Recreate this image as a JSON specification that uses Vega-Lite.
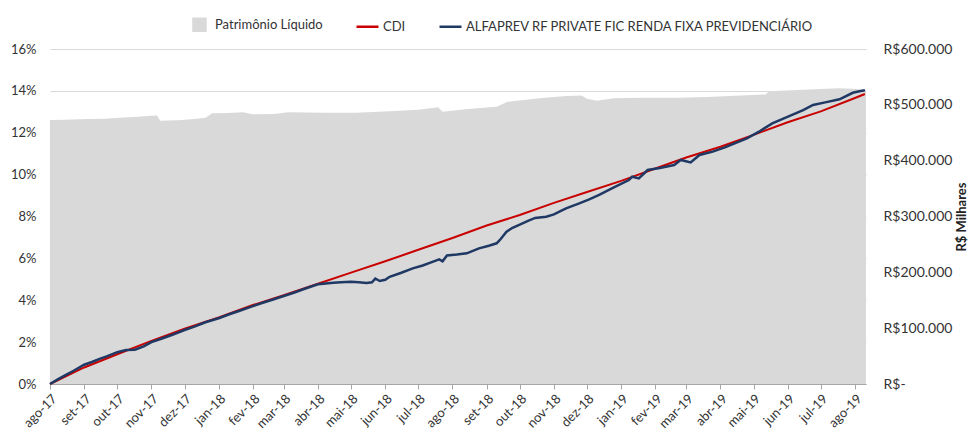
{
  "$schema": "https://vega.github.io/schema/vega-lite/v6.json",
  "width": 816,
  "height": 335,
  "autosize": "none",
  "padding": {"left": 50, "top": 49, "right": 105, "bottom": 48},
  "background": "white",
  "config": {
    "font": "Lato",
    "view": {"stroke": null},
    "axis": {"labelFont": "Lato", "labelFontSize": 13, "labelColor": "#333333", "titleFont": "Lato", "titleColor": "#222222"},
    "legend": {"labelFont": "Lato", "labelFontSize": 13, "labelColor": "#333333", "labelLimit": 0}
  },
  "data": {
    "values": [
      {"d": "2017-08-01", "s": "Patrimônio Líquido", "v": 472800},
      {"d": "2017-08-15", "s": "Patrimônio Líquido", "v": 473500},
      {"d": "2017-09-04", "s": "Patrimônio Líquido", "v": 474600},
      {"d": "2017-09-20", "s": "Patrimônio Líquido", "v": 475200},
      {"d": "2017-10-03", "s": "Patrimônio Líquido", "v": 476900},
      {"d": "2017-10-20", "s": "Patrimônio Líquido", "v": 478500},
      {"d": "2017-11-01", "s": "Patrimônio Líquido", "v": 480500},
      {"d": "2017-11-06", "s": "Patrimônio Líquido", "v": 481000},
      {"d": "2017-11-09", "s": "Patrimônio Líquido", "v": 471600},
      {"d": "2017-11-25", "s": "Patrimônio Líquido", "v": 472500},
      {"d": "2017-12-10", "s": "Patrimônio Líquido", "v": 474500},
      {"d": "2017-12-20", "s": "Patrimônio Líquido", "v": 477000},
      {"d": "2017-12-26", "s": "Patrimônio Líquido", "v": 484800},
      {"d": "2018-01-10", "s": "Patrimônio Líquido", "v": 485500},
      {"d": "2018-01-23", "s": "Patrimônio Líquido", "v": 486600},
      {"d": "2018-02-01", "s": "Patrimônio Líquido", "v": 483000},
      {"d": "2018-02-20", "s": "Patrimônio Líquido", "v": 483500},
      {"d": "2018-03-05", "s": "Patrimônio Líquido", "v": 486600},
      {"d": "2018-04-05", "s": "Patrimônio Líquido", "v": 486000},
      {"d": "2018-05-06", "s": "Patrimônio Líquido", "v": 485900},
      {"d": "2018-06-05", "s": "Patrimônio Líquido", "v": 488500},
      {"d": "2018-07-01", "s": "Patrimônio Líquido", "v": 491000},
      {"d": "2018-07-19", "s": "Patrimônio Líquido", "v": 495600},
      {"d": "2018-07-23", "s": "Patrimônio Líquido", "v": 487700},
      {"d": "2018-08-15", "s": "Patrimônio Líquido", "v": 492500},
      {"d": "2018-09-10", "s": "Patrimônio Líquido", "v": 496700},
      {"d": "2018-09-20", "s": "Patrimônio Líquido", "v": 505600},
      {"d": "2018-10-19", "s": "Patrimônio Líquido", "v": 511700},
      {"d": "2018-11-12", "s": "Patrimônio Líquido", "v": 515800},
      {"d": "2018-11-26", "s": "Patrimônio Líquido", "v": 516700},
      {"d": "2018-12-01", "s": "Patrimônio Líquido", "v": 511000},
      {"d": "2018-12-10", "s": "Patrimônio Líquido", "v": 507400},
      {"d": "2018-12-25", "s": "Patrimônio Líquido", "v": 512000},
      {"d": "2019-01-20", "s": "Patrimônio Líquido", "v": 512500},
      {"d": "2019-02-22", "s": "Patrimônio Líquido", "v": 512900},
      {"d": "2019-03-20", "s": "Patrimônio Líquido", "v": 514000},
      {"d": "2019-04-30", "s": "Patrimônio Líquido", "v": 517500},
      {"d": "2019-05-12", "s": "Patrimônio Líquido", "v": 518500},
      {"d": "2019-05-15", "s": "Patrimônio Líquido", "v": 524500},
      {"d": "2019-06-15", "s": "Patrimônio Líquido", "v": 527000},
      {"d": "2019-07-17", "s": "Patrimônio Líquido", "v": 529600},
      {"d": "2019-07-30", "s": "Patrimônio Líquido", "v": 528800},
      {"d": "2019-08-11", "s": "Patrimônio Líquido", "v": 526600},

      {"d": "2017-08-01", "s": "CDI", "v": 0},
      {"d": "2017-09-01", "s": "CDI", "v": 0.79},
      {"d": "2017-10-01", "s": "CDI", "v": 1.42},
      {"d": "2017-11-01", "s": "CDI", "v": 2.06},
      {"d": "2017-12-01", "s": "CDI", "v": 2.64},
      {"d": "2018-01-01", "s": "CDI", "v": 3.18},
      {"d": "2018-02-01", "s": "CDI", "v": 3.77},
      {"d": "2018-03-01", "s": "CDI", "v": 4.24},
      {"d": "2018-04-01", "s": "CDI", "v": 4.79},
      {"d": "2018-05-01", "s": "CDI", "v": 5.32},
      {"d": "2018-06-01", "s": "CDI", "v": 5.86},
      {"d": "2018-07-01", "s": "CDI", "v": 6.41},
      {"d": "2018-08-01", "s": "CDI", "v": 6.97},
      {"d": "2018-09-01", "s": "CDI", "v": 7.57},
      {"d": "2018-10-01", "s": "CDI", "v": 8.07},
      {"d": "2018-11-01", "s": "CDI", "v": 8.65},
      {"d": "2018-12-01", "s": "CDI", "v": 9.17},
      {"d": "2019-01-01", "s": "CDI", "v": 9.70},
      {"d": "2019-02-01", "s": "CDI", "v": 10.29},
      {"d": "2019-03-01", "s": "CDI", "v": 10.82},
      {"d": "2019-04-01", "s": "CDI", "v": 11.33},
      {"d": "2019-05-01", "s": "CDI", "v": 11.90},
      {"d": "2019-06-01", "s": "CDI", "v": 12.50},
      {"d": "2019-07-01", "s": "CDI", "v": 13.02},
      {"d": "2019-08-01", "s": "CDI", "v": 13.66},
      {"d": "2019-08-10", "s": "CDI", "v": 13.85},

      {"d": "2017-08-01", "s": "ALFAPREV RF PRIVATE FIC RENDA FIXA PREVIDENCIÁRIO", "v": 0},
      {"d": "2017-08-08", "s": "ALFAPREV RF PRIVATE FIC RENDA FIXA PREVIDENCIÁRIO", "v": 0.22},
      {"d": "2017-08-15", "s": "ALFAPREV RF PRIVATE FIC RENDA FIXA PREVIDENCIÁRIO", "v": 0.42},
      {"d": "2017-08-22", "s": "ALFAPREV RF PRIVATE FIC RENDA FIXA PREVIDENCIÁRIO", "v": 0.62},
      {"d": "2017-09-01", "s": "ALFAPREV RF PRIVATE FIC RENDA FIXA PREVIDENCIÁRIO", "v": 0.92},
      {"d": "2017-09-08", "s": "ALFAPREV RF PRIVATE FIC RENDA FIXA PREVIDENCIÁRIO", "v": 1.05},
      {"d": "2017-09-15", "s": "ALFAPREV RF PRIVATE FIC RENDA FIXA PREVIDENCIÁRIO", "v": 1.20},
      {"d": "2017-09-22", "s": "ALFAPREV RF PRIVATE FIC RENDA FIXA PREVIDENCIÁRIO", "v": 1.33},
      {"d": "2017-10-01", "s": "ALFAPREV RF PRIVATE FIC RENDA FIXA PREVIDENCIÁRIO", "v": 1.52},
      {"d": "2017-10-09", "s": "ALFAPREV RF PRIVATE FIC RENDA FIXA PREVIDENCIÁRIO", "v": 1.62},
      {"d": "2017-10-17", "s": "ALFAPREV RF PRIVATE FIC RENDA FIXA PREVIDENCIÁRIO", "v": 1.64},
      {"d": "2017-10-25", "s": "ALFAPREV RF PRIVATE FIC RENDA FIXA PREVIDENCIÁRIO", "v": 1.80},
      {"d": "2017-11-01", "s": "ALFAPREV RF PRIVATE FIC RENDA FIXA PREVIDENCIÁRIO", "v": 2.00},
      {"d": "2017-11-10", "s": "ALFAPREV RF PRIVATE FIC RENDA FIXA PREVIDENCIÁRIO", "v": 2.16},
      {"d": "2017-11-20", "s": "ALFAPREV RF PRIVATE FIC RENDA FIXA PREVIDENCIÁRIO", "v": 2.35},
      {"d": "2017-12-01", "s": "ALFAPREV RF PRIVATE FIC RENDA FIXA PREVIDENCIÁRIO", "v": 2.58},
      {"d": "2017-12-10", "s": "ALFAPREV RF PRIVATE FIC RENDA FIXA PREVIDENCIÁRIO", "v": 2.74},
      {"d": "2017-12-20", "s": "ALFAPREV RF PRIVATE FIC RENDA FIXA PREVIDENCIÁRIO", "v": 2.95},
      {"d": "2018-01-01", "s": "ALFAPREV RF PRIVATE FIC RENDA FIXA PREVIDENCIÁRIO", "v": 3.14},
      {"d": "2018-01-10", "s": "ALFAPREV RF PRIVATE FIC RENDA FIXA PREVIDENCIÁRIO", "v": 3.32},
      {"d": "2018-01-20", "s": "ALFAPREV RF PRIVATE FIC RENDA FIXA PREVIDENCIÁRIO", "v": 3.50},
      {"d": "2018-02-01", "s": "ALFAPREV RF PRIVATE FIC RENDA FIXA PREVIDENCIÁRIO", "v": 3.72},
      {"d": "2018-02-10", "s": "ALFAPREV RF PRIVATE FIC RENDA FIXA PREVIDENCIÁRIO", "v": 3.88},
      {"d": "2018-02-20", "s": "ALFAPREV RF PRIVATE FIC RENDA FIXA PREVIDENCIÁRIO", "v": 4.05},
      {"d": "2018-03-01", "s": "ALFAPREV RF PRIVATE FIC RENDA FIXA PREVIDENCIÁRIO", "v": 4.20},
      {"d": "2018-03-10", "s": "ALFAPREV RF PRIVATE FIC RENDA FIXA PREVIDENCIÁRIO", "v": 4.36},
      {"d": "2018-03-20", "s": "ALFAPREV RF PRIVATE FIC RENDA FIXA PREVIDENCIÁRIO", "v": 4.55},
      {"d": "2018-04-01", "s": "ALFAPREV RF PRIVATE FIC RENDA FIXA PREVIDENCIÁRIO", "v": 4.76},
      {"d": "2018-04-08", "s": "ALFAPREV RF PRIVATE FIC RENDA FIXA PREVIDENCIÁRIO", "v": 4.80},
      {"d": "2018-04-15", "s": "ALFAPREV RF PRIVATE FIC RENDA FIXA PREVIDENCIÁRIO", "v": 4.84},
      {"d": "2018-04-22", "s": "ALFAPREV RF PRIVATE FIC RENDA FIXA PREVIDENCIÁRIO", "v": 4.86},
      {"d": "2018-05-01", "s": "ALFAPREV RF PRIVATE FIC RENDA FIXA PREVIDENCIÁRIO", "v": 4.88},
      {"d": "2018-05-08", "s": "ALFAPREV RF PRIVATE FIC RENDA FIXA PREVIDENCIÁRIO", "v": 4.86},
      {"d": "2018-05-15", "s": "ALFAPREV RF PRIVATE FIC RENDA FIXA PREVIDENCIÁRIO", "v": 4.82},
      {"d": "2018-05-20", "s": "ALFAPREV RF PRIVATE FIC RENDA FIXA PREVIDENCIÁRIO", "v": 4.86},
      {"d": "2018-05-23", "s": "ALFAPREV RF PRIVATE FIC RENDA FIXA PREVIDENCIÁRIO", "v": 5.04},
      {"d": "2018-05-27", "s": "ALFAPREV RF PRIVATE FIC RENDA FIXA PREVIDENCIÁRIO", "v": 4.92},
      {"d": "2018-06-01", "s": "ALFAPREV RF PRIVATE FIC RENDA FIXA PREVIDENCIÁRIO", "v": 4.98},
      {"d": "2018-06-05", "s": "ALFAPREV RF PRIVATE FIC RENDA FIXA PREVIDENCIÁRIO", "v": 5.12},
      {"d": "2018-06-15", "s": "ALFAPREV RF PRIVATE FIC RENDA FIXA PREVIDENCIÁRIO", "v": 5.30},
      {"d": "2018-06-26", "s": "ALFAPREV RF PRIVATE FIC RENDA FIXA PREVIDENCIÁRIO", "v": 5.52},
      {"d": "2018-07-05", "s": "ALFAPREV RF PRIVATE FIC RENDA FIXA PREVIDENCIÁRIO", "v": 5.66},
      {"d": "2018-07-12", "s": "ALFAPREV RF PRIVATE FIC RENDA FIXA PREVIDENCIÁRIO", "v": 5.80},
      {"d": "2018-07-20", "s": "ALFAPREV RF PRIVATE FIC RENDA FIXA PREVIDENCIÁRIO", "v": 5.95},
      {"d": "2018-07-23", "s": "ALFAPREV RF PRIVATE FIC RENDA FIXA PREVIDENCIÁRIO", "v": 5.86},
      {"d": "2018-07-27", "s": "ALFAPREV RF PRIVATE FIC RENDA FIXA PREVIDENCIÁRIO", "v": 6.14},
      {"d": "2018-08-05", "s": "ALFAPREV RF PRIVATE FIC RENDA FIXA PREVIDENCIÁRIO", "v": 6.18},
      {"d": "2018-08-14", "s": "ALFAPREV RF PRIVATE FIC RENDA FIXA PREVIDENCIÁRIO", "v": 6.24},
      {"d": "2018-08-25", "s": "ALFAPREV RF PRIVATE FIC RENDA FIXA PREVIDENCIÁRIO", "v": 6.48},
      {"d": "2018-09-03", "s": "ALFAPREV RF PRIVATE FIC RENDA FIXA PREVIDENCIÁRIO", "v": 6.60},
      {"d": "2018-09-10", "s": "ALFAPREV RF PRIVATE FIC RENDA FIXA PREVIDENCIÁRIO", "v": 6.72},
      {"d": "2018-09-13", "s": "ALFAPREV RF PRIVATE FIC RENDA FIXA PREVIDENCIÁRIO", "v": 6.88},
      {"d": "2018-09-19", "s": "ALFAPREV RF PRIVATE FIC RENDA FIXA PREVIDENCIÁRIO", "v": 7.27},
      {"d": "2018-09-24", "s": "ALFAPREV RF PRIVATE FIC RENDA FIXA PREVIDENCIÁRIO", "v": 7.45},
      {"d": "2018-09-30", "s": "ALFAPREV RF PRIVATE FIC RENDA FIXA PREVIDENCIÁRIO", "v": 7.59},
      {"d": "2018-10-09", "s": "ALFAPREV RF PRIVATE FIC RENDA FIXA PREVIDENCIÁRIO", "v": 7.80},
      {"d": "2018-10-15", "s": "ALFAPREV RF PRIVATE FIC RENDA FIXA PREVIDENCIÁRIO", "v": 7.93},
      {"d": "2018-10-25", "s": "ALFAPREV RF PRIVATE FIC RENDA FIXA PREVIDENCIÁRIO", "v": 7.99},
      {"d": "2018-11-01", "s": "ALFAPREV RF PRIVATE FIC RENDA FIXA PREVIDENCIÁRIO", "v": 8.10},
      {"d": "2018-11-06", "s": "ALFAPREV RF PRIVATE FIC RENDA FIXA PREVIDENCIÁRIO", "v": 8.23},
      {"d": "2018-11-12", "s": "ALFAPREV RF PRIVATE FIC RENDA FIXA PREVIDENCIÁRIO", "v": 8.39},
      {"d": "2018-11-24", "s": "ALFAPREV RF PRIVATE FIC RENDA FIXA PREVIDENCIÁRIO", "v": 8.63},
      {"d": "2018-12-03", "s": "ALFAPREV RF PRIVATE FIC RENDA FIXA PREVIDENCIÁRIO", "v": 8.82},
      {"d": "2018-12-12", "s": "ALFAPREV RF PRIVATE FIC RENDA FIXA PREVIDENCIÁRIO", "v": 9.03},
      {"d": "2018-12-24", "s": "ALFAPREV RF PRIVATE FIC RENDA FIXA PREVIDENCIÁRIO", "v": 9.35},
      {"d": "2019-01-08", "s": "ALFAPREV RF PRIVATE FIC RENDA FIXA PREVIDENCIÁRIO", "v": 9.74},
      {"d": "2019-01-11", "s": "ALFAPREV RF PRIVATE FIC RENDA FIXA PREVIDENCIÁRIO", "v": 9.90},
      {"d": "2019-01-17", "s": "ALFAPREV RF PRIVATE FIC RENDA FIXA PREVIDENCIÁRIO", "v": 9.82},
      {"d": "2019-01-25", "s": "ALFAPREV RF PRIVATE FIC RENDA FIXA PREVIDENCIÁRIO", "v": 10.22},
      {"d": "2019-02-05", "s": "ALFAPREV RF PRIVATE FIC RENDA FIXA PREVIDENCIÁRIO", "v": 10.32},
      {"d": "2019-02-18", "s": "ALFAPREV RF PRIVATE FIC RENDA FIXA PREVIDENCIÁRIO", "v": 10.46},
      {"d": "2019-02-24", "s": "ALFAPREV RF PRIVATE FIC RENDA FIXA PREVIDENCIÁRIO", "v": 10.70},
      {"d": "2019-03-05", "s": "ALFAPREV RF PRIVATE FIC RENDA FIXA PREVIDENCIÁRIO", "v": 10.58},
      {"d": "2019-03-13", "s": "ALFAPREV RF PRIVATE FIC RENDA FIXA PREVIDENCIÁRIO", "v": 10.94},
      {"d": "2019-03-25", "s": "ALFAPREV RF PRIVATE FIC RENDA FIXA PREVIDENCIÁRIO", "v": 11.10},
      {"d": "2019-04-05", "s": "ALFAPREV RF PRIVATE FIC RENDA FIXA PREVIDENCIÁRIO", "v": 11.30},
      {"d": "2019-04-15", "s": "ALFAPREV RF PRIVATE FIC RENDA FIXA PREVIDENCIÁRIO", "v": 11.52},
      {"d": "2019-04-25", "s": "ALFAPREV RF PRIVATE FIC RENDA FIXA PREVIDENCIÁRIO", "v": 11.73},
      {"d": "2019-05-06", "s": "ALFAPREV RF PRIVATE FIC RENDA FIXA PREVIDENCIÁRIO", "v": 12.05},
      {"d": "2019-05-18", "s": "ALFAPREV RF PRIVATE FIC RENDA FIXA PREVIDENCIÁRIO", "v": 12.45},
      {"d": "2019-06-05", "s": "ALFAPREV RF PRIVATE FIC RENDA FIXA PREVIDENCIÁRIO", "v": 12.85},
      {"d": "2019-06-15", "s": "ALFAPREV RF PRIVATE FIC RENDA FIXA PREVIDENCIÁRIO", "v": 13.08},
      {"d": "2019-06-24", "s": "ALFAPREV RF PRIVATE FIC RENDA FIXA PREVIDENCIÁRIO", "v": 13.33},
      {"d": "2019-07-05", "s": "ALFAPREV RF PRIVATE FIC RENDA FIXA PREVIDENCIÁRIO", "v": 13.45},
      {"d": "2019-07-18", "s": "ALFAPREV RF PRIVATE FIC RENDA FIXA PREVIDENCIÁRIO", "v": 13.60},
      {"d": "2019-07-30", "s": "ALFAPREV RF PRIVATE FIC RENDA FIXA PREVIDENCIÁRIO", "v": 13.91},
      {"d": "2019-08-05", "s": "ALFAPREV RF PRIVATE FIC RENDA FIXA PREVIDENCIÁRIO", "v": 13.98},
      {"d": "2019-08-10", "s": "ALFAPREV RF PRIVATE FIC RENDA FIXA PREVIDENCIÁRIO", "v": 14.03}
    ]
  },
  "encoding": {
    "x": {
      "field": "d",
      "type": "temporal",
      "scale": {
        "type": "utc",
        "domain": [{"year": 2017, "month": 8, "date": 1, "utc": true}, {"year": 2019, "month": 8, "date": 11, "utc": true}],
        "nice": false
      },
      "axis": {
        "title": null,
        "grid": false,
        "tickCount": {"interval": "month", "step": 1},
        "labelExpr": "['jan','fev','mar','abr','mai','jun','jul','ago','set','out','nov','dez'][utcmonth(datum.value)] + '-' + utcFormat(datum.value, '%y')",
        "labelAngle": -45,
        "labelFontSize": 13,
        "labelOverlap": false,
        "labelFlush": false,
        "labelBound": false,
        "labelPadding": 3,
        "domainColor": "#a6a6a6",
        "tickColor": "#a6a6a6",
        "tickSize": 5
      }
    },
    "color": {
      "field": "s",
      "type": "nominal",
      "scale": {
        "domain": ["Patrimônio Líquido", "CDI", "ALFAPREV RF PRIVATE FIC RENDA FIXA PREVIDENCIÁRIO"],
        "range": ["#d9d9d9", "#c80000", "#1f3864"]
      },
      "legend": {
        "title": null,
        "orient": "none",
        "legendX": 137,
        "legendY": -37,
        "direction": "horizontal",
        "columnPadding": 28,
        "labelOffset": 3,
        "labelLimit": 0,
        "encoding": {
          "symbols": {
            "shape": {"value": {"expr": "datum.value === 'Patrimônio Líquido' ? 'square' : 'stroke'"}},
            "fill": {"value": {"expr": "datum.value === 'Patrimônio Líquido' ? '#d9d9d9' : 'transparent'"}},
            "stroke": {"value": {"expr": "datum.value === 'CDI' ? '#c80000' : (datum.value === 'Patrimônio Líquido' ? 'transparent' : '#1f3864')"}},
            "size": {"value": {"expr": "datum.value === 'Patrimônio Líquido' ? 144 : 484"}},
            "strokeWidth": {"value": 2.5},
            "opacity": {"value": 1}
          }
        }
      }
    }
  },
  "layer": [
    {
      "transform": [{"filter": "datum.s === 'Patrimônio Líquido'"}],
      "mark": {"type": "area", "opacity": 1},
      "encoding": {
        "y": {
          "field": "v",
          "type": "quantitative",
          "scale": {"domain": [0, 600000], "nice": false},
          "axis": {
            "orient": "right",
            "values": [0, 100000, 200000, 300000, 400000, 500000, 600000],
            "labelExpr": "datum.value === 0 ? 'R$-' : 'R$' + replace(format(datum.value, ','), ',', '.')",
            "labelFontSize": 14,
            "grid": false,
            "domain": false,
            "ticks": false,
            "labelPadding": 17,
            "labelAlign": "left",
            "title": "R$ Milhares",
            "titleFontWeight": "bold",
            "titleFontSize": 13,
            "titleAngle": 270,
            "titlePadding": 17
          }
        }
      }
    },
    {
      "transform": [{"filter": "datum.s === 'CDI'"}],
      "mark": {"type": "line", "strokeWidth": 2},
      "encoding": {
        "y": {
          "field": "v",
          "type": "quantitative",
          "scale": {"domain": [0, 16], "nice": false},
          "axis": {
            "orient": "left",
            "values": [0, 2, 4, 6, 8, 10, 12, 14, 16],
            "labelExpr": "datum.value + '%'",
            "grid": true,
            "gridColor": "#d9d9d9",
            "domain": false,
            "ticks": false,
            "labelPadding": 14,
            "title": null
          }
        }
      }
    },
    {
      "transform": [{"filter": "datum.s === 'ALFAPREV RF PRIVATE FIC RENDA FIXA PREVIDENCIÁRIO'"}],
      "mark": {"type": "line", "strokeWidth": 2.5},
      "encoding": {
        "y": {
          "field": "v",
          "type": "quantitative",
          "scale": {"domain": [0, 16], "nice": false},
          "axis": null
        }
      }
    }
  ],
  "resolve": {"scale": {"y": "independent"}}
}
